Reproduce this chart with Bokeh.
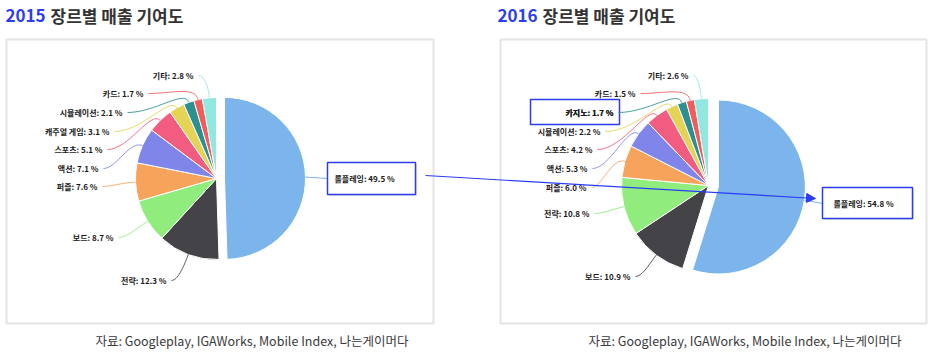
import numpy as np
from bokeh.plotting import figure
from bokeh.models import Range1d, ColumnDataSource, Arrow, NormalHead
from bokeh.core.properties import value
from bokeh.embed import file_html
from bokeh.resources import INLINE

# ---------------- data ----------------
genres_2015 = ["롤플레잉", "전략", "보드", "퍼즐", "액션", "스포츠", "캐주얼 게임", "시뮬레이션", "카드", "기타"]
share_2015 = [49.5, 12.3, 8.7, 7.6, 7.1, 5.1, 3.1, 2.1, 1.7, 2.8]

genres_2016 = ["롤플레잉", "보드", "전략", "퍼즐", "액션", "스포츠", "시뮬레이션", "카지노", "카드", "기타"]
share_2016 = [54.8, 10.9, 10.8, 6.0, 5.3, 4.2, 2.2, 1.7, 1.5, 2.6]

years = ["2015", "2016"]
title_rest = "장르별 매출 기여도"
source_note = "자료: Googleplay, IGAWorks, Mobile Index, 나는게이머다"

# ---------------- styles / layout ----------------
COLORS = ["#7cb5ec", "#434348", "#90ed7d", "#f7a35c", "#8085e9",
          "#f15c80", "#e4d354", "#2b908f", "#f45b5b", "#91e8e1"]
BLUE = "#2b3cf5"
FONT = "Noto Sans CJK KR"
W, H = 932, 352


def Y(py):
    return H - py


p = figure(width=W, height=H, x_range=Range1d(0, W), y_range=Range1d(0, H),
           output_backend="svg", toolbar_location=None,
           x_axis_type=None, y_axis_type=None, min_border=0,
           outline_line_color=None)
p.grid.grid_line_color = None
p.background_fill_color = "white"
p.border_fill_color = "white"

# panel frames
for l, r in [(6, 433), (500, 926)]:
    p.quad(left=l, right=r, top=Y(39), bottom=Y(323), fill_color=None,
           line_color="#e4e4e4", line_width=2)

# titles
for yr, x0, x1 in [(years[0], 5, 50), (years[1], 497, 542)]:
    p.text(x=[x0], y=[Y(15)], text=[yr], text_font=value(FONT), text_font_size="17px",
           text_font_style="bold", text_color=BLUE, text_baseline="middle", text_align="left")
    p.text(x=[x1], y=[Y(15)], text=[title_rest], text_font=value(FONT), text_font_size="17px",
           text_font_style="bold", text_color="#333333", text_baseline="middle", text_align="left")

# source notes
for x0 in [95, 588]:
    p.text(x=[x0], y=[Y(340)], text=[source_note], text_font=value(FONT), text_font_size="12.5px",
           text_color="#3a3a3a", text_baseline="middle", text_align="left")


def draw_pie(genres, shares, cx, cy, r, explode, label_pos, main_box, main_text, extra_box=None):
    v = np.array(shares, dtype=float)
    frac = v / v.sum()
    ce = np.cumsum(frac)
    cs = ce - frac
    start = np.pi / 2 - 2 * np.pi * cs
    end = np.pi / 2 - 2 * np.pi * ce
    mid = (start + end) / 2
    xs = np.full(len(v), float(cx))
    ys = np.full(len(v), float(Y(cy)))
    xs[0] += explode * np.cos(mid[0])
    ys[0] += explode * np.sin(mid[0])
    src = ColumnDataSource(dict(x=xs, y=ys, start=start, end=end, color=COLORS[:len(v)]))
    p.wedge(x="x", y="y", radius=r, start_angle="start", end_angle="end", direction="clock",
            fill_color="color", line_color="white", line_width=1, source=src)

    labels = [f"{g}: {s:.1f} %" for g, s in zip(genres, shares)]

    # edge points for connectors
    ex = xs + r * np.cos(mid)
    ey = ys + r * np.sin(mid)

    # main slice: box + straight connector
    bl, br, bt, bb = main_box
    p.quad(left=bl + 1.5, right=br + 1.5, top=Y(bt + 1.5), bottom=Y(bb + 1.5),
           fill_color="#999999", fill_alpha=0.25, line_color=None)
    p.segment(x0=[ex[0]], y0=[ey[0]], x1=[bl], y1=[Y(main_text[1])], line_color=COLORS[0], line_width=1)
    p.quad(left=bl, right=br, top=Y(bt), bottom=Y(bb), fill_color="white",
           line_color=BLUE, line_width=1.5)
    p.text(x=[main_text[0]], y=[Y(main_text[1])], text=[labels[0]], text_font=value(FONT),
           text_font_size="8px", text_font_style="bold", text_color="#1a1a1a",
           text_baseline="middle", text_align="left")

    if extra_box is not None:
        l, rr, t, b = extra_box
        p.quad(left=l, right=rr, top=Y(t), bottom=Y(b), fill_color="white",
               line_color=BLUE, line_width=1.5)

    # other slices: curved connectors + right-aligned labels
    for i in range(1, len(v)):
        lx, ly = label_pos[i - 1]
        sx, sy = lx + 5, Y(ly)
        dx, dy = np.cos(mid[i]), np.sin(mid[i])
        c2x, c2y = ex[i] + 14 * dx, ey[i] + 14 * dy
        c1x, c1y = sx + 0.5 * (c2x - sx), sy
        p.bezier(x0=[sx], y0=[sy], x1=[ex[i]], y1=[ey[i]], cx0=[c1x], cy0=[c1y],
                 cx1=[c2x], cy1=[c2y], line_color=COLORS[i], line_alpha=0.85, line_width=1)
        p.text(x=[lx], y=[Y(ly)], text=[labels[i]], text_font=value(FONT), text_font_size="8px",
               text_font_style="bold", text_color="#1a1a1a", text_baseline="middle",
               text_align="right")


# label anchors (right end x, centre y), in slice order after the first
lab15 = [(166, 280), (113, 237), (97, 186), (98, 168), (102, 149),
         (109, 131), (122, 112), (143, 93), (193, 75)]
lab16 = [(630, 276), (589, 213), (586, 187), (587, 168), (592, 149),
         (600, 131), (613, 112), (635, 93), (688, 75)]

draw_pie(genres_2015, share_2015, 216, 178, 81, 8, lab15,
         (327, 415, 162, 194), (334, 178))
draw_pie(genres_2016, share_2016, 708, 185, 87, 10, lab16,
         (822, 912, 187, 218), (833, 203), extra_box=(530, 619, 99, 124))

# redraw the 카지노 label above its box
p.text(x=[613], y=[Y(112)], text=[f"{genres_2016[7]}: {share_2016[7]:.1f} %"], text_font=value(FONT),
       text_font_size="8px", text_font_style="bold", text_color="#1a1a1a",
       text_baseline="middle", text_align="right")

# linking arrow
p.add_layout(Arrow(end=NormalHead(size=9, fill_color=BLUE, line_color=BLUE),
                   x_start=425, y_start=Y(175), x_end=815, y_end=Y(198),
                   line_color=BLUE, line_width=1.2))

open("out.html", "w").write(file_html(p, INLINE))
